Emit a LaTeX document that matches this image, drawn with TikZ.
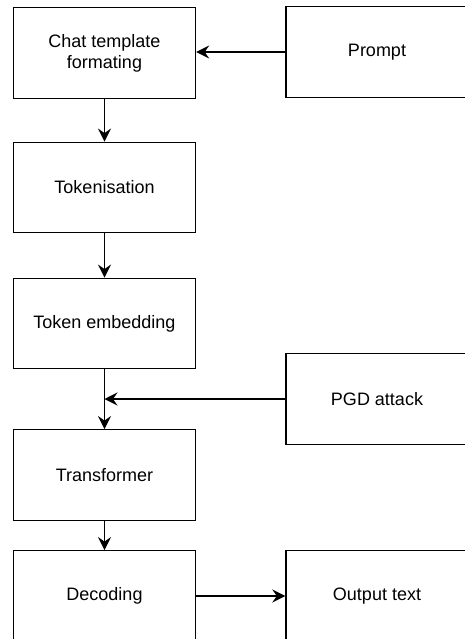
\documentclass[tikz,border=0pt]{standalone}
\usepackage{fontspec}
\setmainfont{Liberation Sans}
\usetikzlibrary{arrows.meta}
\begin{document}
\begin{tikzpicture}[x=1pt,y=-1pt,
  box/.style={draw,line width=1.4pt,minimum width=182pt,minimum height=90.5pt,inner sep=0pt,
    align=center,font=\fontsize{18}{21}\selectfont},
  conn/.style={line width=1.4pt,-{Stealth[length=13pt,width=13pt,inset=4.5pt]}}]
\useasboundingbox (0,0) rectangle (464,639);
\fill[white] (0,0) rectangle (464,639);
\node[box] (chat) at (104.5,53) {Chat template\\formating};
\node[box] (tok) at (104.5,187.5) {Tokenisation};
\node[box] (emb) at (104.5,323.5) {Token embedding};
\node[box] (trans) at (104.5,475) {Transformer};
\node[box] (dec) at (104.5,596) {Decoding};
\node[box] (prompt) at (377,52) {Prompt};
\node[box] (pgd) at (377,399) {PGD attack};
\node[box] (out) at (377,596) {Output text};
\coordinate (join) at (104.5,399);
\draw[conn] (prompt.west) -- (chat.east |- prompt.west);
\draw[conn] (chat.south) -- (tok.north);
\draw[conn] (tok.south) -- (emb.north);
\draw[conn] (emb.south) -- (trans.north);
\draw[conn] (pgd.west) -- (join);
\draw[conn] (trans.south) -- (dec.north);
\draw[conn] (dec.east) -- (out.west);
\end{tikzpicture}
\end{document}
